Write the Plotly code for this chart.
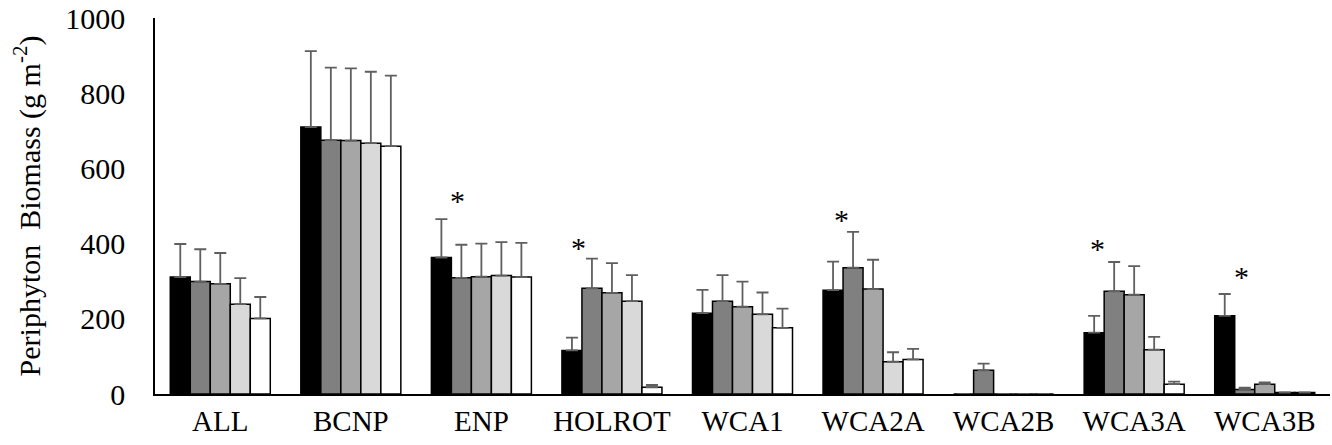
import plotly.graph_objects as go

categories = ["ALL", "BCNP", "ENP", "HOLROT", "WCA1", "WCA2A", "WCA2B", "WCA3A", "WCA3B"]

s1_vals = [311, 710, 363, 116, 215, 276, 0, 163, 208]
s1_err = [88, 202, 102, 34, 62, 76, 0, 45, 58]
s2_vals = [299, 675, 309, 281, 247, 336, 63, 273, 12]
s2_err = [86, 193, 88, 79, 69, 95, 18, 78, 5]
s3_vals = [293, 674, 312, 269, 232, 279, 0, 264, 26]
s3_err = [82, 192, 88, 79, 67, 78, 0, 76, 5]
s4_vals = [239, 667, 315, 247, 212, 86, 0, 118, 4]
s4_err = [69, 190, 89, 69, 58, 25, 0, 34, 0]
s5_vals = [201, 659, 311, 18, 176, 92, 0, 26, 4]
s5_err = [57, 188, 91, 6, 51, 28, 0, 7, 0]

series_names = ["Series 1", "Series 2", "Series 3", "Series 4", "Series 5"]
series_colors = ["#000000", "#808080", "#a6a6a6", "#d9d9d9", "#ffffff"]

star_cats = [2, 3, 5, 7, 8]
star_offsets = [-0.18, -0.26, -0.24, -0.28, -0.18]
star_y = [525, 401, 476, 398, 323]

yticks = [0, 200, 400, 600, 800, 1000]

FONT = "Liberation Serif, Times New Roman, serif"

fig = go.Figure()
all_vals = [s1_vals, s2_vals, s3_vals, s4_vals, s5_vals]
all_errs = [s1_err, s2_err, s3_err, s4_err, s5_err]
xs = list(range(len(categories)))
for name, color, vals, errs in zip(series_names, series_colors, all_vals, all_errs):
    fig.add_trace(go.Bar(
        x=xs, y=vals, name=name,
        marker=dict(color=color, line=dict(color="#000000", width=1.5)),
        error_y=dict(type="data", array=errs, symmetric=False,
                     arrayminus=[0] * len(errs),
                     color="#5f5f5f", thickness=1.8, width=6),
        showlegend=False,
    ))

for c, off, yv in zip(star_cats, star_offsets, star_y):
    fig.add_annotation(x=c + off, y=yv, text="*", showarrow=False,
                       font=dict(family=FONT, size=30, color="#000000"),
                       xanchor="center", yanchor="middle", yshift=-4)

fig.update_layout(
    width=1332, height=445,
    margin=dict(l=155, r=2, t=18, b=51),
    paper_bgcolor="white", plot_bgcolor="white",
    barmode="group", bargap=0.234, bargroupgap=0,
    font=dict(family=FONT, size=29, color="#000000"),
    xaxis=dict(
        tickmode="array", tickvals=xs, ticktext=categories,
        range=[-0.5, 8.5], showline=True, linecolor="#000000", linewidth=1.5,
        ticks="", showgrid=False, zeroline=False,
        tickfont=dict(family=FONT, size=29, color="#000000"),
    ),
    yaxis=dict(
        range=[0, 1000], tickmode="array", tickvals=yticks,
        showline=True, linecolor="#000000", linewidth=1.5,
        ticks="", showgrid=False, zeroline=False, ticklen=0,
        ticklabelstandoff=22,
        tickfont=dict(family=FONT, size=30, color="#000000"),
        title=dict(text="Periphyton  Biomass (g m<sup>-2</sup>)",
                   font=dict(family=FONT, size=30, color="#000000"),
                   standoff=16),
    ),
)

fig.write_html("out.html")
